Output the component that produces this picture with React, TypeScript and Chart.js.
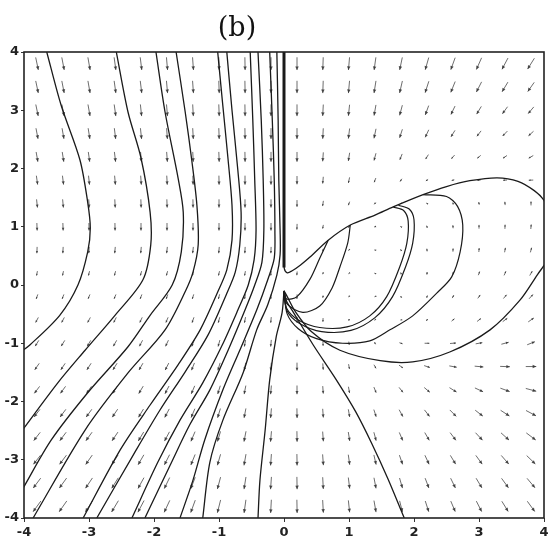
import React, { useEffect, useRef } from "react";
import { Chart, registerables } from "chart.js";

Chart.register(...registerables);

type Pt = [number, number];

const TITLE = "(b)";
const X_TICKS = [-4, -3, -2, -1, 0, 1, 2, 3, 4];
const Y_TICKS = [-4, -3, -2, -1, 0, 1, 2, 3, 4];

// Trajectories crossing the left half, top edge to left/bottom edge
const C1: Pt[] = [[-3.65, 4], [-3.43, 3.09], [-3.14, 2.15], [-3.02, 1.42], [-2.98, 0.98], [-3.02, 0.57], [-3.17, 0], [-3.45, -0.52], [-3.91, -1.03], [-4.05, -1.15]];
const C2: Pt[] = [[-2.58, 4], [-2.4, 2.97], [-2.2, 2.18], [-2.06, 1.25], [-2.05, 0.69], [-2.17, 0.09], [-2.6, -0.52], [-3.06, -1.12], [-3.48, -1.68], [-4.03, -2.5]];
const C3: Pt[] = [[-1.97, 4], [-1.83, 2.97], [-1.63, 1.84], [-1.55, 1.25], [-1.58, 0.57], [-1.72, 0], [-2.06, -0.52], [-2.4, -1.06], [-3.02, -1.85], [-3.58, -2.66], [-4.02, -3.5]];
const C4: Pt[] = [[-1.66, 4], [-1.52, 2.97], [-1.42, 2.15], [-1.34, 1.37], [-1.32, 0.69], [-1.4, 0.22], [-1.51, -0.09], [-1.83, -0.77], [-2.4, -1.51], [-3.06, -2.49], [-3.86, -4]];
const C5: Pt[] = [[-1.02, 4], [-0.95, 3.18], [-0.86, 2.15], [-0.8, 1.37], [-0.8, 0.77], [-0.88, 0.26], [-1.02, -0.12], [-1.29, -0.77], [-1.63, -1.37], [-2.06, -2.06], [-2.52, -2.83], [-3.09, -4]];
const C6: Pt[] = [[-0.88, 4], [-0.8, 3.0], [-0.71, 1.97], [-0.66, 1.25], [-0.68, 0.69], [-0.75, 0.22], [-0.89, -0.17], [-1.17, -0.86], [-1.52, -1.49], [-1.91, -2.15], [-2.32, -2.92], [-2.88, -4]];
const C7: Pt[] = [[-0.52, 4], [-0.48, 2.83], [-0.45, 1.8], [-0.43, 0.94], [-0.46, 0.43], [-0.55, 0], [-0.71, -0.43], [-0.95, -1.03], [-1.25, -1.68], [-1.6, -2.32], [-1.94, -3.04], [-2.34, -4]];
const C8: Pt[] = [[-0.4, 4], [-0.35, 2.83], [-0.32, 1.8], [-0.31, 0.94], [-0.34, 0.39], [-0.45, 0], [-0.6, -0.43], [-0.86, -1.12], [-1.14, -1.8], [-1.45, -2.4], [-1.75, -3.09], [-2.14, -4]];
const C9: Pt[] = [[-0.22, 4], [-0.18, 2.83], [-0.15, 1.8], [-0.14, 0.94], [-0.15, 0.46], [-0.25, 0.09], [-0.42, -0.43], [-0.68, -1.12], [-0.94, -1.8], [-1.22, -2.66], [-1.4, -3.35], [-1.6, -4]];
const C10: Pt[] = [[-0.11, 4], [-0.09, 2.83], [-0.08, 1.8], [-0.06, 0.94], [-0.06, 0.52], [-0.11, 0.17], [-0.25, -0.34], [-0.42, -0.77], [-0.63, -1.51], [-0.94, -2.32], [-1.14, -3.04], [-1.25, -4]];

// Invariant axis x = 0 above the cusp
const AXIS_ORBIT: Pt[] = [[0, 4], [0, 0.3]];

// Outer orbit: hook at the cusp, upper envelope, right side (leaves the box), lower arc back to the origin
const OUTER: Pt[] = [[0, 0.5], [0.005, 0.28], [0.05, 0.21], [0.12, 0.24], [0.25, 0.34], [0.4, 0.48], [0.68, 0.77], [1.02, 1.03], [1.4, 1.2], [1.68, 1.34], [2.14, 1.55], [2.5, 1.69], [2.86, 1.79], [3.28, 1.84], [3.6, 1.78], [3.85, 1.62], [4.0, 1.45], [4.1, 1.15], [4.12, 0.8], [4.06, 0.45], [3.9, 0.18], [3.63, -0.26], [3.17, -0.77], [2.55, -1.15], [1.98, -1.32], [1.48, -1.3], [0.86, -1.12], [0.42, -0.8], [0.17, -0.45], [0.05, -0.2], [0, -0.1]];

// Inner loops leaving the origin and joining the upper envelope
const LOOP_A: Pt[] = [[0, -0.1], [0.04, -0.24], [0.2, -0.2], [0.4, 0.1], [0.55, 0.46], [0.68, 0.77]];
const LOOP_B: Pt[] = [[0, -0.1], [0.05, -0.33], [0.29, -0.47], [0.55, -0.36], [0.74, -0.05], [0.86, 0.31], [0.98, 0.72], [1.02, 1.03]];
const LOOP_C1: Pt[] = [[0, -0.12], [0.04, -0.4], [0.22, -0.6], [0.55, -0.73], [0.97, -0.72], [1.32, -0.53], [1.58, -0.2], [1.78, 0.31], [1.89, 0.72], [1.91, 1.1], [1.84, 1.28], [1.68, 1.34]];
const LOOP_C2: Pt[] = [[0, -0.12], [0.05, -0.45], [0.24, -0.66], [0.58, -0.8], [1.03, -0.78], [1.4, -0.56], [1.67, -0.2], [1.87, 0.31], [1.98, 0.72], [2.0, 1.12], [1.93, 1.3], [1.76, 1.37]];
const LOOP_D: Pt[] = [[0, -0.12], [0.05, -0.5], [0.22, -0.75], [0.5, -0.92], [0.9, -1.0], [1.32, -0.96], [1.63, -0.77], [1.98, -0.53], [2.35, -0.14], [2.58, 0.14], [2.71, 0.57], [2.75, 1.03], [2.67, 1.35], [2.5, 1.52], [2.14, 1.55]];

// Separatrices running from the origin to the bottom edge
const SEP_RIGHT: Pt[] = [[0, -0.1], [0.04, -0.28], [0.14, -0.46], [0.45, -1.03], [0.8, -1.62], [1.1, -2.17], [1.35, -2.72], [1.6, -3.33], [1.85, -4]];
const SEP_LEFT: Pt[] = [[0, -0.1], [-0.03, -0.48], [-0.12, -0.89], [-0.22, -1.63], [-0.29, -2.49], [-0.37, -3.35], [-0.4, -4]];

const ORBITS: { pts: Pt[]; width: number }[] = [
  { pts: C1, width: 1.3 }, { pts: C2, width: 1.3 }, { pts: C3, width: 1.3 }, { pts: C4, width: 1.3 },
  { pts: C5, width: 1.3 }, { pts: C6, width: 1.3 }, { pts: C7, width: 1.3 }, { pts: C8, width: 1.3 },
  { pts: C9, width: 1.3 }, { pts: C10, width: 1.3 },
  { pts: AXIS_ORBIT, width: 3 }, { pts: OUTER, width: 1.3 },
  { pts: LOOP_A, width: 1.2 }, { pts: LOOP_B, width: 1.2 }, { pts: LOOP_C1, width: 1.2 },
  { pts: LOOP_C2, width: 1.2 }, { pts: LOOP_D, width: 1.2 },
  { pts: SEP_RIGHT, width: 1.3 }, { pts: SEP_LEFT, width: 1.3 },
];

// Direction field sample grid
const GRID_X = [-3.8, -3.4, -3.0, -2.6, -2.2, -1.8, -1.4, -1.0, -0.6, -0.2, 0.2, 0.6, 1.0, 1.4, 1.8, 2.2, 2.6, 3.0, 3.4, 3.8];
const GRID_Y = [3.8, 3.4, 3.0, 2.6, 2.2, 1.8, 1.4, 1.0, 0.6, 0.2, -0.2, -0.6, -1.0, -1.4, -1.8, -2.2, -2.6, -3.0, -3.4, -3.8];

// Arrow heading in degrees (0 = right, 90 = up), one row per GRID_Y value
const FIELD_ANGLE: number[][] = [
  [-78, -79, -80, -82, -83, -85, -86, -88, -89, -90, -90, -92, -95, -98, -102, -106, -110, -114, -118, -122],
  [-78, -79, -80, -82, -83, -85, -86, -88, -89, -90, -90, -92, -95, -99, -103, -108, -112, -117, -121, -125],
  [-78, -79, -80, -82, -84, -85, -87, -88, -89, -90, -90, -93, -96, -100, -105, -110, -116, -121, -126, -130],
  [-79, -80, -81, -83, -84, -86, -87, -88, -89, -90, -90, -93, -97, -102, -108, -115, -122, -128, -134, -138],
  [-80, -81, -82, -83, -85, -86, -87, -88, -89, -90, -90, -94, -99, -105, -112, -122, -132, -140, -146, -150],
  [-82, -83, -84, -85, -86, -87, -88, -89, -90, -90, -90, -95, -102, -112, -125, -145, -165, -175, -178, -178],
  [-84, -85, -86, -87, -88, -88, -89, -90, -90, -90, -90, -98, -110, -130, -170, 150, 120, 100, 95, 90],
  [-88, -88, -89, -89, -90, -90, -90, -90, -90, -90, -92, -100, -120, -160, 150, 110, 95, 90, 88, 85],
  [-92, -93, -94, -95, -95, -96, -96, -95, -93, -92, -95, -105, -130, 170, 120, 95, 88, 85, 80, 75],
  [-100, -102, -104, -105, -106, -106, -105, -103, -100, -96, -95, -110, -140, 160, 110, 85, 75, 70, 65, 60],
  [-110, -112, -113, -113, -112, -110, -108, -105, -100, -95, -92, -100, -120, -160, 120, 70, 60, 55, 50, 48],
  [-118, -118, -118, -117, -115, -113, -110, -106, -101, -95, -90, -92, -100, -120, -170, 40, 40, 38, 36, 35],
  [-122, -122, -121, -120, -118, -115, -111, -106, -101, -95, -90, -88, -82, -60, -20, 0, 5, 10, 15, 22],
  [-125, -124, -123, -122, -120, -117, -112, -107, -101, -95, -90, -86, -80, -60, -35, -18, -10, -5, -2, 0],
  [-127, -126, -125, -123, -121, -118, -113, -107, -101, -95, -90, -86, -80, -68, -52, -40, -32, -25, -20, -15],
  [-128, -127, -126, -124, -121, -118, -113, -107, -101, -95, -89, -86, -80, -72, -62, -52, -45, -38, -33, -28],
  [-128, -127, -126, -124, -121, -118, -113, -107, -101, -95, -89, -86, -81, -75, -67, -60, -53, -47, -42, -37],
  [-128, -127, -125, -123, -120, -117, -112, -106, -100, -94, -89, -86, -82, -77, -71, -65, -59, -54, -49, -44],
  [-127, -126, -124, -122, -119, -116, -111, -105, -99, -94, -89, -87, -83, -79, -74, -69, -64, -59, -54, -50],
  [-126, -125, -123, -121, -118, -115, -110, -104, -98, -93, -89, -87, -84, -80, -76, -72, -67, -63, -58, -54],
];

// Relative arrow length (1 = longest), one row per GRID_Y value
const FIELD_SIZE: number[][] = [
  [0.85, 0.85, 0.85, 0.85, 0.85, 0.85, 0.85, 0.85, 0.85, 0.85, 0.85, 0.85, 0.85, 0.85, 0.85, 0.85, 0.85, 0.85, 0.85, 0.85],
  [0.82, 0.82, 0.82, 0.82, 0.82, 0.82, 0.82, 0.82, 0.82, 0.82, 0.82, 0.82, 0.82, 0.82, 0.82, 0.8, 0.78, 0.76, 0.75, 0.75],
  [0.78, 0.78, 0.78, 0.78, 0.78, 0.78, 0.78, 0.78, 0.78, 0.78, 0.78, 0.76, 0.74, 0.72, 0.7, 0.66, 0.62, 0.6, 0.58, 0.58],
  [0.72, 0.72, 0.72, 0.72, 0.72, 0.72, 0.72, 0.72, 0.72, 0.72, 0.72, 0.7, 0.68, 0.65, 0.6, 0.55, 0.5, 0.45, 0.45, 0.45],
  [0.66, 0.66, 0.66, 0.66, 0.66, 0.66, 0.66, 0.66, 0.66, 0.66, 0.65, 0.6, 0.55, 0.5, 0.42, 0.35, 0.32, 0.3, 0.32, 0.35],
  [0.6, 0.6, 0.6, 0.6, 0.6, 0.6, 0.6, 0.6, 0.6, 0.6, 0.55, 0.45, 0.38, 0.3, 0.22, 0.18, 0.18, 0.22, 0.26, 0.3],
  [0.55, 0.55, 0.55, 0.55, 0.55, 0.55, 0.55, 0.55, 0.55, 0.55, 0.45, 0.35, 0.25, 0.15, 0.1, 0.1, 0.12, 0.18, 0.22, 0.26],
  [0.5, 0.5, 0.5, 0.5, 0.5, 0.5, 0.5, 0.5, 0.5, 0.5, 0.38, 0.25, 0.15, 0.1, 0.1, 0.15, 0.2, 0.25, 0.28, 0.3],
  [0.42, 0.42, 0.42, 0.42, 0.42, 0.42, 0.42, 0.42, 0.42, 0.42, 0.3, 0.18, 0.1, 0.08, 0.12, 0.18, 0.22, 0.26, 0.3, 0.32],
  [0.3, 0.3, 0.3, 0.3, 0.3, 0.3, 0.3, 0.3, 0.3, 0.3, 0.25, 0.12, 0.08, 0.08, 0.12, 0.18, 0.22, 0.26, 0.3, 0.34],
  [0.32, 0.32, 0.32, 0.32, 0.32, 0.32, 0.32, 0.32, 0.32, 0.32, 0.3, 0.15, 0.08, 0.06, 0.1, 0.16, 0.22, 0.28, 0.32, 0.38],
  [0.38, 0.38, 0.38, 0.38, 0.38, 0.38, 0.38, 0.38, 0.38, 0.38, 0.38, 0.25, 0.12, 0.08, 0.08, 0.15, 0.25, 0.32, 0.38, 0.45],
  [0.45, 0.45, 0.45, 0.45, 0.45, 0.45, 0.45, 0.45, 0.45, 0.45, 0.45, 0.35, 0.22, 0.15, 0.22, 0.32, 0.4, 0.45, 0.5, 0.55],
  [0.52, 0.52, 0.52, 0.52, 0.52, 0.52, 0.52, 0.52, 0.52, 0.52, 0.52, 0.42, 0.32, 0.28, 0.32, 0.4, 0.5, 0.58, 0.65, 0.7],
  [0.58, 0.58, 0.58, 0.58, 0.58, 0.58, 0.58, 0.58, 0.58, 0.58, 0.58, 0.5, 0.42, 0.4, 0.42, 0.48, 0.55, 0.6, 0.66, 0.72],
  [0.64, 0.64, 0.64, 0.64, 0.64, 0.64, 0.64, 0.64, 0.64, 0.64, 0.64, 0.58, 0.52, 0.5, 0.52, 0.55, 0.6, 0.64, 0.7, 0.75],
  [0.7, 0.7, 0.7, 0.7, 0.7, 0.7, 0.7, 0.7, 0.7, 0.7, 0.7, 0.65, 0.6, 0.58, 0.58, 0.6, 0.64, 0.68, 0.72, 0.78],
  [0.76, 0.76, 0.76, 0.76, 0.76, 0.76, 0.76, 0.76, 0.76, 0.76, 0.76, 0.72, 0.68, 0.66, 0.65, 0.66, 0.68, 0.72, 0.76, 0.8],
  [0.82, 0.82, 0.82, 0.82, 0.82, 0.82, 0.82, 0.82, 0.82, 0.82, 0.82, 0.78, 0.74, 0.72, 0.7, 0.7, 0.72, 0.75, 0.78, 0.82],
  [0.88, 0.88, 0.88, 0.88, 0.88, 0.88, 0.88, 0.88, 0.88, 0.88, 0.88, 0.84, 0.8, 0.78, 0.76, 0.75, 0.76, 0.78, 0.8, 0.84],
];

const TICK_FONT = { family: "'DejaVu Sans', sans-serif", size: 13, weight: "bold" as const };

// Draws the direction field arrows under the trajectories
const fieldPlugin = {
  id: "directionField",
  beforeDatasetsDraw(chart: any) {
    const { ctx, scales, chartArea } = chart;
    const xs = scales.x;
    const ys = scales.y;
    ctx.save();
    ctx.beginPath();
    ctx.rect(chartArea.left, chartArea.top, chartArea.right - chartArea.left, chartArea.bottom - chartArea.top);
    ctx.clip();
    ctx.strokeStyle = "rgba(60,60,60,0.75)";
    ctx.fillStyle = "rgba(50,50,50,0.85)";
    ctx.lineWidth = 1;
    GRID_Y.forEach((gy, r) => {
      GRID_X.forEach((gx, c) => {
        const px = xs.getPixelForValue(gx);
        const py = ys.getPixelForValue(gy);
        const a = (FIELD_ANGLE[r][c] * Math.PI) / 180;
        const len = FIELD_SIZE[r][c] * 15;
        const ux = Math.cos(a);
        const uy = -Math.sin(a);
        const x0 = px - (ux * len) / 2;
        const y0 = py - (uy * len) / 2;
        const x1 = px + (ux * len) / 2;
        const y1 = py + (uy * len) / 2;
        ctx.beginPath();
        ctx.moveTo(x0, y0);
        ctx.lineTo(x1, y1);
        ctx.stroke();
        const head = Math.max(2, Math.min(4, len * 0.4));
        const spread = 0.45;
        const dir = Math.atan2(uy, ux);
        ctx.beginPath();
        ctx.moveTo(x1, y1);
        ctx.lineTo(x1 - head * Math.cos(dir - spread), y1 - head * Math.sin(dir - spread));
        ctx.lineTo(x1 - head * Math.cos(dir + spread), y1 - head * Math.sin(dir + spread));
        ctx.closePath();
        ctx.fill();
      });
    });
    ctx.restore();
  },
};

// Box around the plotting area and the panel caption
const framePlugin = {
  id: "frameAndCaption",
  afterDatasetsDraw(chart: any) {
    const { ctx, chartArea } = chart;
    ctx.save();
    ctx.strokeStyle = "#222";
    ctx.lineWidth = 1.6;
    ctx.strokeRect(chartArea.left, chartArea.top, chartArea.right - chartArea.left, chartArea.bottom - chartArea.top);
    ctx.fillStyle = "#111";
    ctx.font = "27px 'DejaVu Serif', serif";
    ctx.textAlign = "center";
    ctx.textBaseline = "alphabetic";
    ctx.fillText(TITLE, 237, 36);
    ctx.restore();
  },
};

export default function App() {
  const canvasRef = useRef<HTMLCanvasElement | null>(null);

  useEffect(() => {
    const canvas = canvasRef.current;
    if (!canvas) return;
    const chart = new Chart(canvas, {
      type: "scatter",
      data: {
        datasets: ORBITS.map((o) => ({
          data: o.pts.map(([x, y]) => ({ x, y })),
          showLine: true,
          borderColor: "#1a1a1a",
          borderWidth: o.width,
          pointRadius: 0,
          tension: 0.3,
          fill: false,
        })),
      },
      options: {
        animation: false,
        responsive: false,
        maintainAspectRatio: false,
        layout: { padding: { top: 52, right: 8, left: 0, bottom: 0 } },
        plugins: {
          legend: { display: false },
          tooltip: { enabled: false },
          title: { display: false },
        },
        scales: {
          x: {
            type: "linear",
            min: -4,
            max: 4,
            afterBuildTicks: (s: any) => {
              s.ticks = X_TICKS.map((v) => ({ value: v }));
            },
            afterFit: (s: any) => {
              s.height = 21;
            },
            grid: { drawOnChartArea: false, drawTicks: true, tickLength: 4, color: "#333" },
            border: { display: false },
            ticks: {
              font: TICK_FONT,
              color: "#222",
              padding: 3,
              maxRotation: 0,
              autoSkip: false,
              callback: (v: any) => String(v),
            },
          },
          y: {
            type: "linear",
            min: -4,
            max: 4,
            afterBuildTicks: (s: any) => {
              s.ticks = Y_TICKS.map((v) => ({ value: v }));
            },
            afterFit: (s: any) => {
              s.width = 24;
            },
            grid: { drawOnChartArea: false, drawTicks: true, tickLength: 3, color: "#333" },
            border: { display: false },
            ticks: {
              font: TICK_FONT,
              color: "#222",
              padding: 2,
              autoSkip: false,
              callback: (v: any) => String(v),
            },
          },
        },
      } as any,
      plugins: [fieldPlugin, framePlugin],
    });
    return () => chart.destroy();
  }, []);

  return (
    <div style={{ position: "absolute", left: 0, top: 0, width: 552, height: 539, background: "#fff" }}>
      <canvas ref={canvasRef} width={552} height={539} style={{ display: "block" }} />
    </div>
  );
}
